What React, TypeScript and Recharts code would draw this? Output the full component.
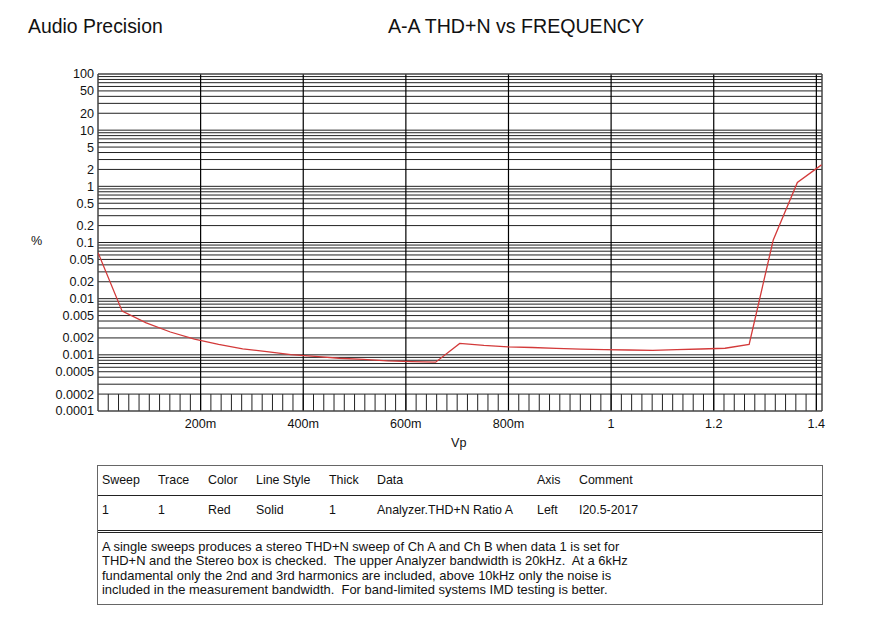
import React from "react";
import {
  LineChart,
  Line,
  XAxis,
  YAxis,
  ReferenceLine,
} from "recharts";

// sweep points (Vp) and measured THD+N (%)
const sweepVolts = [
  0, 0.047, 0.094, 0.141, 0.188, 0.235, 0.282, 0.329, 0.376, 0.423, 0.47,
  0.517, 0.564, 0.611, 0.658, 0.705, 0.752, 0.799, 0.846, 0.893, 0.94, 0.987,
  1.034, 1.081, 1.128, 1.175, 1.222, 1.269, 1.316, 1.363, 1.41,
];
const thdPercent = [
  0.066, 0.006, 0.0037, 0.00255, 0.0019, 0.00153, 0.00128, 0.00114, 0.00101,
  0.00094, 0.00087, 0.00083, 0.00078, 0.00076, 0.00074, 0.0016, 0.00147,
  0.00139, 0.00135, 0.0013, 0.00126, 0.00124, 0.00122, 0.0012, 0.00124,
  0.00127, 0.00131, 0.00153, 0.111, 1.17, 2.41,
];

const xTicks = [0.2, 0.4, 0.6, 0.8, 1, 1.2, 1.4];
const xTickLabels = ["200m", "400m", "600m", "800m", "1", "1.2", "1.4"];
const yTicks = [
  100, 50, 20, 10, 5, 2, 1, 0.5, 0.2, 0.1, 0.05, 0.02, 0.01, 0.005, 0.002,
  0.001, 0.0005, 0.0002, 0.0001,
];
const yTickLabels = [
  "100", "50", "20", "10", "5", "2", "1", "0.5", "0.2", "0.1", "0.05",
  "0.02", "0.01", "0.005", "0.002", "0.001", "0.0005", "0.0002", "0.0001",
];

const tableHeader = ["Sweep", "Trace", "Color", "Line Style", "Thick", "Data", "Axis", "Comment"];
const tableRow = ["1", "1", "Red", "Solid", "1", "Analyzer.THD+N Ratio A", "Left", "I20.5-2017"];
const columnX = [4, 60, 110, 158, 231, 279, 439, 481];
const noteLines = [
  "A single sweeps produces a stereo THD+N sweep of Ch A and Ch B when data 1 is set for",
  "THD+N and the Stereo box is checked.  The upper Analyzer bandwidth is 20kHz.  At a 6kHz",
  "fundamental only the 2nd and 3rd harmonics are included, above 10kHz only the noise is",
  "included in the measurement bandwidth.  For band-limited systems IMD testing is better.",
];

const X_MAX = 1.411;
const FONT = "'Liberation Sans', Arial, sans-serif";

const data = sweepVolts.map((v, i) => ({ v, thd: thdPercent[i] }));

// log grid: every 1..9 in each decade
const yGrid: number[] = [];
[0.0001, 0.001, 0.01, 0.1, 1, 10].forEach((d) => {
  for (let m = 1; m <= 9; m++) {
    if (d === 0.0001 && m === 1) continue;
    yGrid.push(+(m * d).toPrecision(3));
  }
});
// minor x ticks every 20m along the bottom
const xMinor: number[] = [];
for (let i = 1; i < 71; i++) xMinor.push(+(i * 0.02).toFixed(2));

const lineColor = "#222";

export default function App() {
  return (
    <div
      style={{
        position: "absolute",
        left: 0,
        top: 0,
        width: 888,
        height: 626,
        background: "#fff",
        fontFamily: FONT,
        color: "#111",
      }}
    >
      <div style={{ position: "absolute", left: 28, top: 15, fontSize: 19.4 }}>
        Audio Precision
      </div>
      <div style={{ position: "absolute", left: 388, top: 15, fontSize: 19.6 }}>
        A-A THD+N vs FREQUENCY
      </div>
      <div style={{ position: "absolute", left: 31, top: 234, fontSize: 12.6 }}>%</div>
      <div style={{ position: "absolute", left: 451, top: 436, fontSize: 12.6 }}>Vp</div>

      <div style={{ position: "absolute", left: 0, top: 0 }}>
        <LineChart
          width={888}
          height={460}
          data={data}
          margin={{ top: 74, left: 38, right: 66, bottom: 19 }}
        >
          <XAxis
            dataKey="v"
            type="number"
            domain={[0, X_MAX]}
            ticks={xTicks}
            interval={0}
            allowDataOverflow
            axisLine={false}
            tickLine={false}
            height={30}
            tickFormatter={(t: number) => xTickLabels[xTicks.indexOf(t)] ?? ""}
            tick={{ fontSize: 12.6, fill: "#111", fontFamily: FONT }}
          />
          <YAxis
            type="number"
            scale="log"
            domain={[0.0001, 100]}
            ticks={yTicks}
            interval={0}
            allowDataOverflow
            axisLine={false}
            tickLine={false}
            tickSize={0}
            tickMargin={4}
            width={60}
            tickFormatter={(t: number) => yTickLabels[yTicks.indexOf(t)] ?? ""}
            tick={{ fontSize: 12.6, fill: "#111", fontFamily: FONT }}
          />
          {yGrid.map((g) => (
            <ReferenceLine key={`h${g}`} y={g} stroke={lineColor} strokeWidth={1} />
          ))}
          {xMinor.map((m) => (
            <ReferenceLine
              key={`m${m}`}
              segment={[
                { x: m, y: 0.0001 },
                { x: m, y: 0.0002 },
              ]}
              stroke={lineColor}
              strokeWidth={1}
            />
          ))}
          {xTicks.map((t) => (
            <ReferenceLine key={`v${t}`} x={t} stroke="#000" strokeWidth={1.2} />
          ))}
          <ReferenceLine x={0} stroke="#444" strokeWidth={1.5} />
          <ReferenceLine x={X_MAX} stroke="#444" strokeWidth={1.5} />
          <ReferenceLine y={100} stroke="#444" strokeWidth={1.5} />
          <ReferenceLine y={0.0001} stroke="#444" strokeWidth={1.5} />
          <Line
            type="linear"
            dataKey="thd"
            stroke="#d33a3a"
            strokeWidth={1.3}
            dot={false}
            isAnimationActive={false}
          />
        </LineChart>
      </div>

      <div
        style={{
          position: "absolute",
          left: 97,
          top: 465,
          width: 724,
          height: 138,
          border: "1.5px solid #666",
          fontSize: 12.4,
        }}
      >
        <div style={{ position: "relative", height: 29, borderBottom: "1.5px solid #222" }}>
          {tableHeader.map((h, i) => (
            <span key={h} style={{ position: "absolute", left: columnX[i], top: 7 }}>
              {h}
            </span>
          ))}
        </div>
        <div style={{ position: "relative", height: 34, borderBottom: "3px double #222" }}>
          {tableRow.map((c, i) => (
            <span key={i} style={{ position: "absolute", left: columnX[i], top: 7 }}>
              {c}
            </span>
          ))}
        </div>
        <div style={{ padding: "7px 0 0 4px", lineHeight: "14.3px", fontSize: 12.95 }}>
          {noteLines.map((l, i) => (
            <div key={i} style={{ whiteSpace: "pre" }}>
              {l}
            </div>
          ))}
        </div>
      </div>
    </div>
  );
}
